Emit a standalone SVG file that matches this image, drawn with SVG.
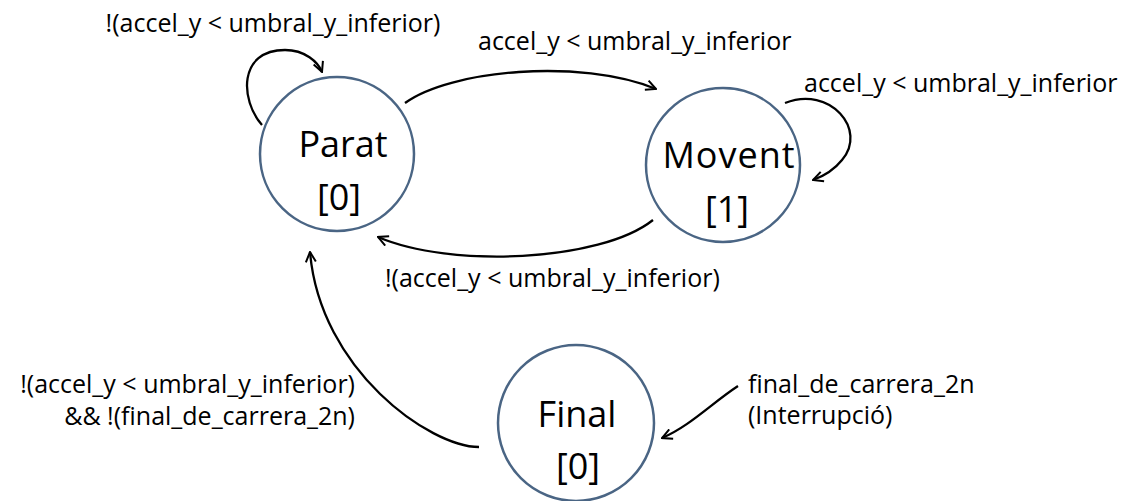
<svg xmlns="http://www.w3.org/2000/svg" width="1139" height="501" viewBox="0 0 1139 501">
<defs>
<style>
.state{fill:#ffffff;stroke:#4a6584;stroke-width:2.5}
.big{font-family:"Open Sans","Noto Sans",sans-serif;font-size:36px;fill:#000;text-anchor:middle}
.lbl{font-family:"Open Sans","Noto Sans",sans-serif;font-size:25px;fill:#000}
.edge{fill:none;stroke:#000;stroke-width:2.3;marker-end:url(#arr)}
</style>
<marker id="arr" viewBox="0 0 12 12" refX="11" refY="6" markerWidth="12" markerHeight="12" markerUnits="userSpaceOnUse" orient="auto">
<path d="M1,1 L11,6 L1,11" fill="none" stroke="#000" stroke-width="2"/>
</marker>
</defs>
<rect width="1139" height="501" fill="#ffffff"/>
<g id="connectors">
<path class="edge" d="M262,125 C240,100 238,50 285,50 C305,50 318,62 322,72"/>
<path class="edge" d="M405,103 C450,70 580,58 656,89"/>
<path class="edge" d="M785,103 C830,85 868,130 842,160 C834,170 824,176 813,180"/>
<path class="edge" d="M653,220 C600,262 450,268 378,237"/>
<path class="edge" d="M479,447 C430,447 320,370 310,252"/>
<path class="edge" d="M738,386 C712,403 690,426 662,438"/>
</g>
<g id="labels">
<text class="lbl" x="273" y="32" text-anchor="middle">!(accel_y &lt; umbral_y_inferior)</text>
<text class="lbl" x="478" y="50">accel_y &lt; umbral_y_inferior</text>
<text class="lbl" x="804" y="92">accel_y &lt; umbral_y_inferior</text>
<text class="lbl" x="385" y="287">!(accel_y &lt; umbral_y_inferior)</text>
<text class="lbl" x="355" y="393" text-anchor="end">!(accel_y &lt; umbral_y_inferior)</text>
<text class="lbl" x="355" y="425" text-anchor="end">&amp;&amp; !(final_de_carrera_2n)</text>
<text class="lbl" x="748" y="393">final_de_carrera_2n</text>
<text class="lbl" x="748" y="424">(Interrupció)</text>
</g>
<g id="parat">
<circle class="state" cx="337" cy="154" r="77"/>
<text class="big" x="343" y="157">Parat</text>
<text class="big" x="339" y="210">[0]</text>
</g>
<g id="movent">
<circle class="state" cx="723" cy="165" r="77"/>
<text class="big" x="729" y="168" letter-spacing="1">Movent</text>
<text class="big" x="727" y="222">[1]</text>
</g>
<g id="final">
<circle class="state" cx="576" cy="423" r="78"/>
<text class="big" x="577" y="427">Final</text>
<text class="big" x="578" y="479">[0]</text>
</g>
</svg>
